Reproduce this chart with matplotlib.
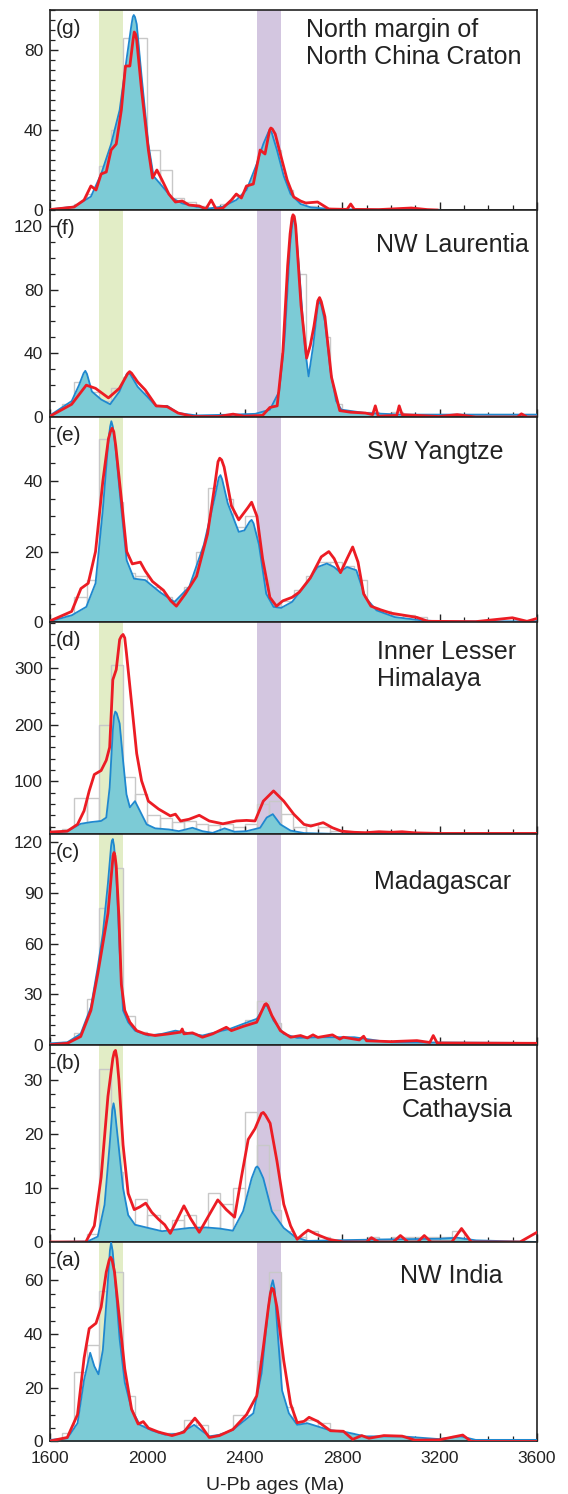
import numpy as np
import matplotlib
matplotlib.use("Agg")
import matplotlib.pyplot as plt
from matplotlib.ticker import MultipleLocator, AutoMinorLocator

plt.rcParams['font.family'] = ['Liberation Sans', 'DejaVu Sans']

# ---- data (ages in Ma) ----
bin_start, bin_width = 1600, 50

# (g) North margin of North China Craton
g_blue_x = [1600, 1700, 1768, 1810, 1851, 1886, 1914, 1935, 1940, 1944, 1949, 1956, 1976, 2004, 2025, 2060,
            2101, 2143, 2199, 2254, 2310, 2365, 2407, 2449, 2476, 2497, 2504, 2511, 2532, 2560, 2588, 2629,
            2671, 2750, 2900, 3200]
g_blue_y = [0.3, 1.7, 6.7, 18, 33, 50, 75, 93, 96.5, 97.5, 96.5, 93, 67, 33, 17, 12,
            6, 3.3, 1.7, 0.8, 1.7, 5, 10, 23, 33, 39, 40, 38.5, 30, 17, 8, 3,
            1.3, 0.5, 0.2, 0]
g_red_x = [1600, 1699, 1740, 1768, 1789, 1810, 1831, 1851, 1872, 1893, 1910, 1928, 1941, 1946, 1951, 1956,
           1976, 2004, 2021, 2039, 2060, 2088, 2115, 2143, 2171, 2213, 2240, 2262, 2282, 2310, 2345, 2365,
           2386, 2407, 2435, 2463, 2483, 2502, 2507, 2513, 2525, 2546, 2574, 2601, 2629, 2650, 2699, 2745,
           2820, 2835, 2850, 2950, 3084, 3150, 3190]
g_red_y = [0.2, 1.5, 5, 12, 10, 18, 19, 30, 33, 50, 72, 72, 85, 89, 88, 85,
           60, 30, 16, 20, 15, 8, 4, 4.5, 2.5, 2, 0.5, 5, 0.5, 1, 5, 8,
           6, 12, 13, 30, 28, 40, 41, 40.5, 38, 28, 15, 6.5, 4.5, 3.5, 4, 0.5,
           0.3, 3, 0.3, 0.2, 1, 0.2, 0]
g_hist = [0, 1, 3, 8, 22, 40, 86, 86, 30, 20, 6, 4, 2, 1, 3, 7, 12, 27, 30, 10, 4, 2, 1]

# (f) NW Laurentia
f_blue_x = [1600, 1689, 1719, 1738, 1745, 1752, 1772, 1810, 1847, 1885, 1915, 1923, 1931, 1960, 1998, 2036,
            2081, 2126, 2202, 2352, 2443, 2503, 2541, 2564, 2586, 2595, 2601, 2608, 2624, 2647, 2662, 2681,
            2700, 2707, 2714, 2729, 2752, 2775, 2797, 2895, 3046, 3600]
f_blue_y = [1, 10, 20, 27.5, 29, 27, 16, 11, 8, 16, 27, 27.6, 26.5, 19, 13, 6.7,
            7, 2.5, 1, 1.5, 2, 4.6, 16, 50, 108, 121, 125, 121, 91, 43, 25.5, 45,
            70.5, 72.6, 70, 60, 28.7, 10, 4.6, 2.5, 1.5, 1.5]
f_red_x = [1600, 1689, 1749, 1787, 1840, 1885, 1920, 1927, 1935, 1960, 1991, 2036, 2081, 2126, 2187, 2292,
           2352, 2398, 2473, 2503, 2533, 2556, 2576, 2586, 2594, 2598, 2603, 2609, 2631, 2654, 2669, 2684,
           2700, 2707, 2714, 2729, 2756, 2790, 2835, 2895, 2925, 2936, 2948, 3024, 3034, 3046, 3197, 3272,
           3348, 3520, 3536, 3559, 3600]
f_red_y = [0.5, 8, 20, 18, 12, 18, 27.5, 28.5, 27.5, 22, 17, 7, 6.5, 2.5, 0.3, 0.3,
           1.8, 0.5, 1, 6, 7, 40, 95, 115, 125, 127, 126, 120, 70, 37, 45, 57,
           73, 75, 72.5, 63, 25, 4, 3, 2.5, 1.5, 7, 0.5, 1, 7, 1.5, 0.3, 1.5,
           0, 0, 2, 0, 0]
f_hist = [1, 8, 22, 16, 10, 18, 25, 15, 7, 5, 2, 1, 0, 0, 1, 1, 1, 2, 5, 40, 90, 25, 50, 8, 3, 2, 3, 1, 3, 1]

# (e) SW Yangtze
e_blue_x = [1600, 1689, 1749, 1787, 1817, 1840, 1847, 1852, 1858, 1867, 1893, 1915, 1945, 1991, 2051, 2111,
            2172, 2232, 2277, 2293, 2300, 2307, 2330, 2375, 2398, 2420, 2428, 2436, 2458, 2488, 2518, 2549,
            2594, 2654, 2699, 2737, 2767, 2790, 2820, 2858, 2895, 2941, 3016, 3122, 3197, 3600]
e_blue_y = [0.2, 1.9, 4.3, 11, 32, 51.7, 55.5, 57, 55.5, 51, 32, 17.5, 12.3, 11.9, 8.5, 5.7,
            10, 22, 35.5, 41, 41.7, 40.5, 33.7, 25.6, 26, 28.5, 29, 28, 22, 8, 4.3, 4,
            5.7, 11, 15.6, 16.6, 15.6, 14.2, 15.6, 14.7, 7, 3.3, 1.4, 0.5, 0.2, 0.2]
e_red_x = [1600, 1689, 1727, 1757, 1787, 1817, 1840, 1848, 1855, 1862, 1870, 1893, 1915, 1938, 1971, 1991,
           2021, 2066, 2096, 2119, 2156, 2202, 2247, 2277, 2290, 2297, 2305, 2315, 2345, 2375, 2413, 2428,
           2450, 2473, 2503, 2530, 2556, 2594, 2624, 2669, 2714, 2745, 2767, 2793, 2820, 2843, 2865, 2888,
           2918, 2956, 3001, 3046, 3107, 3152, 3348, 3499, 3559, 3600]
e_red_y = [0.3, 3, 9.5, 11, 20, 40, 52, 54, 55, 54, 50, 35, 20, 16.5, 17, 14.5,
           11.5, 9, 6, 4.5, 8, 13, 25, 39, 45.5, 46.5, 46, 44, 33, 29, 32.5, 34,
           30, 18, 7, 4.5, 6, 7, 8.5, 12.5, 18.5, 20, 18, 14, 18, 21.3, 17, 8,
           4.5, 3.5, 2.5, 2, 1.3, 0.2, 0.1, 1.2, 0.2, 1]
e_hist = [0, 2, 7, 12, 52, 34, 14, 13, 10, 7, 6, 10, 20, 38, 35, 27, 30, 12, 5, 6, 9, 13, 17, 17, 16, 12,
          4, 3, 2, 2, 1.5]

# (d) Inner Lesser Himalaya
d_blue_x = [1601, 1671, 1726, 1768, 1810, 1831, 1845, 1858, 1863, 1868, 1874, 1886, 1900, 1914, 1928, 1949,
            1969, 1997, 2032, 2088, 2129, 2185, 2226, 2268, 2317, 2358, 2407, 2463, 2490, 2515, 2546, 2588,
            2643, 2700, 2800, 3600]
d_blue_y = [8.7, 12, 25, 28, 30, 36, 89, 190, 215, 223, 220, 202, 137, 77, 54, 65,
            48, 24, 17, 15, 12, 18, 12, 9, 17, 11, 12, 18, 36, 42, 24, 13,
            8.7, 8, 7, 7]
d_red_x = [1601, 1671, 1713, 1740, 1761, 1782, 1810, 1831, 1845, 1858, 1872, 1886, 1893, 1900, 1907, 1914,
           1935, 1956, 1976, 2004, 2046, 2094, 2115, 2136, 2171, 2213, 2254, 2310, 2365, 2407, 2442, 2476,
           2518, 2560, 2601, 2643, 2671, 2722, 2760, 2797, 2850, 2895, 2950, 3000, 3046, 3100, 3200, 3600]
d_red_y = [10.5, 12, 24, 48, 83, 112, 119, 137, 160, 279, 297, 350, 356, 359, 353, 326,
           238, 149, 101, 65, 51, 39, 42, 30, 33, 40, 30, 25, 30, 31, 30, 65,
           83, 65, 42, 24, 21, 27, 18, 12, 10, 9.3, 11, 10, 11, 9, 8, 8]
d_hist = [8, 15, 70, 70, 200, 306, 107, 77, 40, 35, 28, 30, 25, 22, 25, 20, 25, 60, 65, 42, 20, 25, 20, 12,
          10, 10, 10, 12, 10, 10]

# (c) Madagascar
c_blue_x = [1601, 1671, 1726, 1768, 1796, 1817, 1838, 1851, 1854, 1858, 1863, 1872, 1886, 1900, 1921, 1949,
            2004, 2060, 2115, 2171, 2226, 2282, 2338, 2393, 2449, 2482, 2488, 2494, 2518, 2560, 2615, 2700,
            2850, 2950, 3000, 3600]
c_blue_y = [1, 1.6, 6.6, 22.5, 46, 66, 96, 118, 121, 122, 118, 102, 56, 20.5, 13.5, 8.5,
            5.6, 6.6, 8.5, 7, 5.6, 7.6, 9.5, 12.5, 15.5, 23, 23.5, 22.5, 14.5, 6.6, 4.2, 4.6,
            4.6, 2.5, 1.6, 1.2]
c_red_x = [1601, 1671, 1726, 1768, 1796, 1817, 1838, 1854, 1859, 1863, 1867, 1872, 1883, 1893, 1907, 1928,
           1956, 1990, 2032, 2088, 2136, 2143, 2150, 2185, 2226, 2268, 2324, 2345, 2393, 2449, 2482, 2488,
           2494, 2511, 2546, 2588, 2629, 2657, 2680, 2700, 2760, 2790, 2805, 2870, 2888, 2900, 3000, 3107,
           3160, 3174, 3190, 3600]
c_red_y = [0.2, 1, 5, 20.5, 42, 60, 78, 104, 112, 114, 112, 106, 76, 36, 20.5, 13.5,
           8.5, 6.6, 5.6, 6.6, 7.6, 9.5, 6.6, 7.2, 4.6, 6.6, 10.5, 8.5, 11, 13.5, 24, 24.5,
           23.5, 17.5, 8.5, 4.6, 5.6, 4.2, 6, 4.5, 6, 3.5, 4.6, 3, 5.2, 2.5, 2, 2.6,
           1.5, 5.6, 1.2, 1]
c_hist = [0, 2, 7, 27, 81, 105, 17, 7.5, 5, 6, 8, 7, 5, 7, 9, 10, 15, 26, 13, 5, 4, 4, 4, 5, 3, 3, 1, 1, 1,
          1, 1, 2]

# (b) Eastern Cathaysia
b_blue_x = [1601, 1754, 1796, 1824, 1845, 1856, 1861, 1866, 1879, 1900, 1921, 1949, 2004, 2060, 2115, 2171,
            2240, 2296, 2351, 2393, 2428, 2445, 2451, 2458, 2476, 2511, 2560, 2608, 2657, 2750, 3000, 3200,
            3272, 3350, 3600]
b_blue_y = [0, 0.1, 1, 6.9, 18, 24.5, 25.7, 24.5, 19, 10, 5, 3.2, 2.6, 2, 2.3, 2.6,
            2.7, 2.5, 2.1, 5.7, 11.8, 13.8, 14, 13.6, 11.8, 5.7, 2.6, 0.9, 0.2, 0.3, 0.5, 0.6,
            0.8, 0.3, 0]
b_red_x = [1601, 1747, 1782, 1810, 1838, 1858, 1864, 1869, 1875, 1883, 1900, 1921, 1946, 1969, 1993, 2018,
           2046, 2071, 2094, 2115, 2150, 2178, 2213, 2247, 2289, 2324, 2358, 2386, 2414, 2442, 2468, 2476,
           2485, 2504, 2532, 2560, 2588, 2615, 2640, 2660, 2690, 2745, 2805, 2900, 2920, 2950, 3010, 3039,
           3070, 3110, 3137, 3165, 3250, 3290, 3330, 3530, 3600]
b_red_y = [0, 0, 3, 12, 27, 34, 35.2, 35.5, 34, 30, 18, 9, 6, 6.5, 7.2, 5.5,
           4.2, 3.2, 1.6, 3.5, 6.7, 4.3, 1.8, 4.5, 7.8, 6, 4.6, 12, 19, 21, 23.8, 24,
           23.5, 22, 15, 7, 3, 0.5, 1.5, 2.2, 1.5, 0.5, 0, 0, 0.8, 0, 0, 1.2,
           0, 0, 1.2, 0, 0, 2.5, 0, 0, 1.8]
b_hist = [0, 0, 0, 1.5, 32, 13, 3, 8, 5, 2, 4, 5, 2, 9, 7, 10, 24, 18, 6, 2, 1, 2, 1, 0, 0, 0, 1, 0, 1, 1,
          1, 1, 1, 2]

# (a) NW India
a_blue_x = [1601, 1671, 1713, 1740, 1765, 1782, 1799, 1817, 1835, 1846, 1851, 1857, 1865, 1886, 1907, 1935,
            1969, 2018, 2074, 2129, 2171, 2192, 2219, 2254, 2296, 2351, 2393, 2435, 2469, 2497, 2509, 2515,
            2522, 2532, 2553, 2581, 2615, 2657, 2745, 2820, 2895, 3046, 3197, 3287, 3348, 3600]
a_blue_y = [0.6, 1.2, 6.8, 23, 33, 28, 25, 34, 56, 71, 74, 71, 63, 38, 22, 12,
            6.2, 4.1, 2.5, 2.9, 5, 6.2, 4.3, 1.9, 2.5, 4.3, 7.4, 10.5, 25.4, 50, 58, 60,
            57, 44, 19, 10.5, 6.2, 6.8, 4.3, 3.4, 1.9, 1.9, 0.9, 1.9, 0.6, 0.6]
a_red_x = [1601, 1671, 1713, 1740, 1761, 1789, 1810, 1831, 1843, 1849, 1855, 1865, 1886, 1907, 1935, 1962,
           1983, 2004, 2046, 2101, 2150, 2171, 2195, 2219, 2254, 2296, 2351, 2407, 2449, 2476, 2497, 2505,
           2511, 2518, 2532, 2560, 2588, 2615, 2643, 2664, 2699, 2752, 2805, 2843, 2880, 2910, 2971, 3046,
           3099, 3197, 3295, 3330, 3600]
a_red_y = [0.2, 1.5, 10, 31, 42, 44, 50, 63, 67.5, 68.5, 67.5, 63, 45, 27, 12, 6.5,
           7.4, 5, 3.5, 2.2, 3.5, 6, 8.7, 6, 1.5, 2.2, 4.5, 10, 17, 35, 50, 55,
           57, 56.5, 50, 30, 14, 7, 7.5, 9, 7.5, 4, 3.8, 0.8, 2.2, 1.2, 2.2, 2,
           0.5, 0.6, 2.4, 0, 0]
a_hist = [0, 3, 26, 36, 56, 63, 17, 6, 4, 3, 3, 8, 6, 2, 3, 10, 10, 30, 63, 13, 7, 8, 7, 4, 3, 2, 2, 2, 2, 1,
          1, 1, 1, 2]

labels = ['(g)', '(f)', '(e)', '(d)', '(c)', '(b)', '(a)']
titles = ['North margin of\nNorth China Craton', 'NW Laurentia', 'SW Yangtze', 'Inner Lesser\nHimalaya',
          'Madagascar', 'Eastern\nCathaysia', 'NW India']
ylims = [(0, 100), (0, 130), (0, 58.2), (7, 381), (0, 125), (0, 36.5), (0, 74.2)]
yticks = [[0, 40, 80], [0, 40, 80, 120], [0, 20, 40], [100, 200, 300], [0, 30, 60, 90, 120],
          [0, 10, 20, 30], [0, 20, 40, 60]]
yminor = [8, 4, 4, 5, 5, 4, 4]
title_x = [0.525, 0.669, 0.650, 0.672, 0.666, 0.722, 0.719]
title_top_px = [8, 23.5, 23.5, 18, 36, 26.5, 22]

blues = [(g_blue_x, g_blue_y), (f_blue_x, f_blue_y), (e_blue_x, e_blue_y), (d_blue_x, d_blue_y),
         (c_blue_x, c_blue_y), (b_blue_x, b_blue_y), (a_blue_x, a_blue_y)]
reds = [(g_red_x, g_red_y), (f_red_x, f_red_y), (e_red_x, e_red_y), (d_red_x, d_red_y),
        (c_red_x, c_red_y), (b_red_x, b_red_y), (a_red_x, a_red_y)]
hists = [g_hist, f_hist, e_hist, d_hist, c_hist, b_hist, a_hist]

green_band = (1800, 1900)
purple_band = (2450, 2548)

# ---- plot ----
W, H = 568, 1494
fig = plt.figure(figsize=(W / 100, H / 100), dpi=100)
gs = fig.add_gridspec(7, 1, left=50 / W, right=537 / W, top=1 - 10 / H, bottom=1 - 1441.5 / H,
                      hspace=0, height_ratios=[200, 207, 205, 212, 211, 197, 199.5])

fill_col = '#7ccbd6'
line_col = '#1f88cf'
red_col = '#ec1c24'
txt_col = '#222222'

for i in range(7):
    ax = fig.add_subplot(gs[i])
    ax_h = ax.get_position().height * H
    ax.axvspan(*green_band, color='#e2edc6', lw=0, zorder=0)
    ax.axvspan(*purple_band, color='#d3c6e0', lw=0, zorder=0)

    counts = hists[i]
    edges = bin_start + bin_width * np.arange(len(counts))
    ax.bar(edges, counts, width=bin_width, align='edge', fill=False, edgecolor='#c8c8c8', lw=1.0, zorder=1)

    bx, by = blues[i]
    ax.fill_between(bx, 0, by, color=fill_col, lw=0, zorder=2)
    ax.plot(bx, by, color=line_col, lw=1.3, zorder=3)
    rx, ry = reds[i]
    ax.plot(rx, ry, color=red_col, lw=2.0, zorder=4, solid_joinstyle='round')

    ax.set_xlim(1600, 3600)
    ax.set_ylim(*ylims[i])
    ax.set_yticks(yticks[i])
    ax.yaxis.set_minor_locator(AutoMinorLocator(yminor[i]))
    ax.xaxis.set_major_locator(MultipleLocator(400))
    ax.xaxis.set_minor_locator(MultipleLocator(100))
    ax.tick_params(axis='both', which='both', direction='in', top=False, right=False, labelsize=12.5,
                   colors=txt_col)
    ax.tick_params(axis='both', which='major', length=6, width=1.0)
    ax.tick_params(axis='both', which='minor', length=3.5, width=0.9)
    ax.tick_params(axis='y', pad=5)
    ax.tick_params(axis='x', pad=7)
    for s in ax.spines.values():
        s.set_linewidth(1.2)
        s.set_color(txt_col)
    if i < 6:
        ax.tick_params(axis='x', labelbottom=False)

    ax.text(0.012, 1 - 9 / ax_h, labels[i], transform=ax.transAxes, ha='left', va='top', fontsize=15,
            color=txt_col)
    ax.text(title_x[i], 1 - title_top_px[i] / ax_h, titles[i], transform=ax.transAxes, ha='left', va='top',
            fontsize=18, color=txt_col, linespacing=1.15)

fig.text(275 / W, 9 / H, 'U-Pb ages (Ma)', ha='center', va='center', fontsize=14, color=txt_col)

fig.savefig('out.png', dpi=100)
